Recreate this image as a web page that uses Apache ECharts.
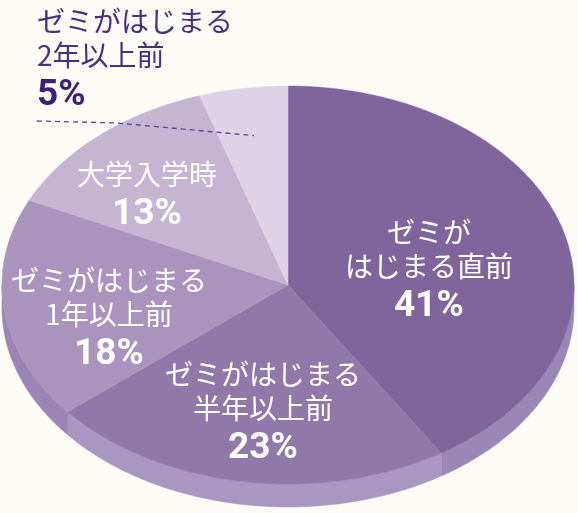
<!DOCTYPE html>
<html>
<head>
<meta charset="utf-8">
<script src="https://cdn.jsdelivr.net/npm/echarts@6/dist/echarts.min.js"></script>
<style>
html,body{margin:0;padding:0;background:#fefcf6;}
#chart{width:578px;height:513px;}
</style>
</head>
<body>
<div id="chart"></div>
<script>
// ---- data ----
const categories = ['ゼミが\nはじまる直前', 'ゼミがはじまる\n半年以上前', 'ゼミがはじまる\n1年以上前', '大学入学時', 'ゼミがはじまる\n2年以上前'];
const shares = [41, 23, 18, 13, 5];
const percentLabels = ['41%', '23%', '18%', '13%', '5%'];

// ---- styles / layout ----
const topColors = ['#7f659c', '#8f79a9', '#a994be', '#c4b5d3', '#dcd4e6'];
const sideColors = ['#9b87b5', '#a897c0', '#9b85b7', '#b3a3c7', '#cfc4dc'];
const PIE = { cx: 288, cy: 285, rx: 286, ry: 199, depth: 23 };
const labelLayout = [
  { x: 429, y: 215, align: 'center', inside: true },
  { x: 263, y: 357, align: 'center', inside: true },
  { x: 109, y: 263, align: 'center', inside: true },
  { x: 147, y: 157, align: 'center', inside: true },
  { x: 37, y: 4, align: 'left', inside: false, leader: [[37, 121], [117, 123]], leaderR: 0.76 }
];
const JP = "'Noto Sans CJK JP', 'Noto Sans', sans-serif";

function pt(deg, r, dy) {
  const a = deg * Math.PI / 180;
  return [PIE.cx + PIE.rx * r * Math.sin(a), PIE.cy - PIE.ry * r * Math.cos(a) + (dy || 0)];
}
function arc(a0, a1, r, dy) {
  const pts = [];
  const n = Math.max(2, Math.ceil(Math.abs(a1 - a0) / 0.5));
  for (let i = 0; i <= n; i++) pts.push(pt(a0 + (a1 - a0) * i / n, r, dy));
  return pts;
}

const chart = echarts.init(document.getElementById('chart'), null, { renderer: 'canvas' });

function renderItem(params, api) {
  const idx = params.dataIndex;
  const n = params.dataInsideLength;
  let total = 0, before = 0;
  for (let i = 0; i < n; i++) {
    const v = api.value(0, i);
    total += v;
    if (i < idx) before += v;
  }
  const v = api.value(0);
  const a0 = before / total * 360;
  const a1 = (before + v) / total * 360;
  const children = [];

  // side (front half only)
  const s = Math.max(a0, 90), e = Math.min(a1, 270);
  if (s < e) {
    const pts = arc(s, e, 1, 0).concat(arc(e, s, 1, PIE.depth));
    children.push({
      type: 'polygon', z2: 1,
      shape: { points: pts },
      style: { fill: sideColors[idx], stroke: sideColors[idx], lineWidth: 0.5 }
    });
  }
  // top face
  const topPts = [[PIE.cx, PIE.cy]].concat(arc(a0, a1, 1, 0));
  children.push({
    type: 'polygon', z2: 2,
    shape: { points: topPts },
    style: { fill: topColors[idx], stroke: topColors[idx], lineWidth: 0.5 }
  });

  // label
  const L = labelLayout[idx];
  const lines = categories[idx].split('\n').map(t => '{t|' + t + '}');
  lines.push('{p|' + percentLabels[idx] + '}');
  const txtColor = L.inside ? '#ffffff' : '#4a2f7d';
  const pctColor = L.inside ? '#ffffff' : '#3d1f73';
  children.push({
    type: 'text', z2: 50,
    x: L.x, y: L.y,
    style: {
      text: lines.join('\n'),
      align: L.align,
      verticalAlign: 'top',
      rich: {
        t: { fontSize: 28, lineHeight: 34, fontFamily: JP, fill: txtColor, align: L.align },
        p: { fontSize: 37, lineHeight: 48, fontFamily: 'Roboto', fontWeight: 'bold', fill: pctColor, align: L.align }
      }
    }
  });

  // leader line for outside label
  if (L.leader) {
    const mid = (a0 + a1) / 2;
    const pts = L.leader.concat([pt(mid, L.leaderR, 0)]);
    children.push({
      type: 'polyline', z2: 60,
      shape: { points: pts },
      style: { stroke: '#5b4290', lineWidth: 1.3, lineDash: [5, 4], fill: null }
    });
  }

  return { type: 'group', children: children };
}

chart.setOption({
  backgroundColor: '#fefcf6',
  animation: false,
  series: [{
    type: 'custom',
    coordinateSystem: 'none',
    renderItem: renderItem,
    data: shares.map((v, i) => ({ name: categories[i], value: [v] }))
  }]
});
</script>
</body>
</html>
